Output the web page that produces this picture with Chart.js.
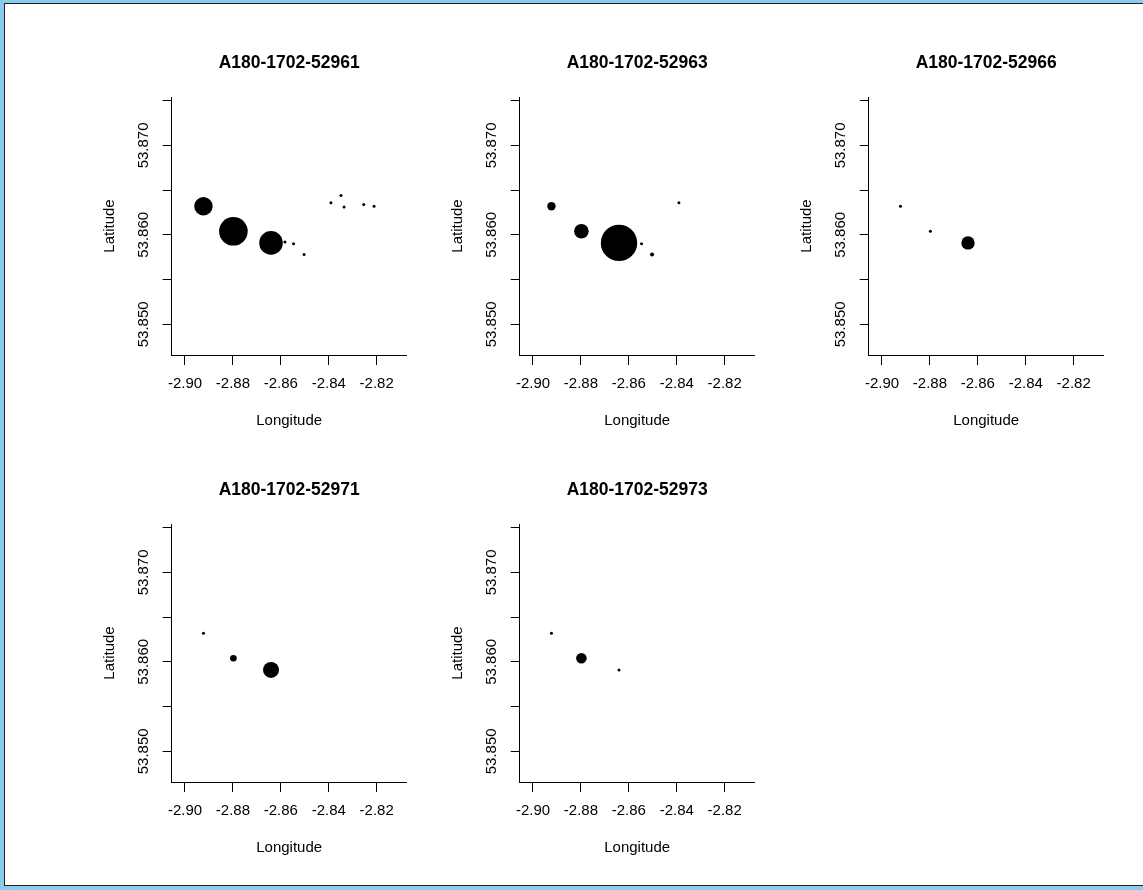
<!DOCTYPE html>
<html>
<head>
<meta charset="utf-8">
<script src="https://cdn.jsdelivr.net/npm/chart.js@4.4.0/dist/chart.umd.min.js"></script>
<style>
    body { margin: 0; background: #fff; width: 1143px; height: 890px; overflow: hidden; }
    #frame { position: absolute; left: 0; top: 0; width: 1143px; height: 890px; background: #8ccbec; }
    #sheet { position: absolute; left: 4px; top: 3px; width: 1139px; height: 883px; background: #fff;
             box-sizing: border-box; border-left: 1px solid #222; border-top: 1px solid #222; border-bottom: 1px solid #222; }
    canvas { position: absolute; }
</style>
</head>
<body>
<div id="frame"><div id="sheet"></div></div>

<script>
const titles = ['A180-1702-52961', 'A180-1702-52963', 'A180-1702-52966', 'A180-1702-52971', 'A180-1702-52973'];

// sampling locations (same for every haul)
const longitude = [-2.8923, -2.8798, -2.8641, -2.8583, -2.8547, -2.8503, -2.8391, -2.8349, -2.8336, -2.8254, -2.8211];
const latitude = [53.8632, 53.8604, 53.8591, 53.8592, 53.8590, 53.8578, 53.8636, 53.8644, 53.8631, 53.8634, 53.8632];

// symbol size (cex) at each location, 0 = nothing caught
const cex52961 = [3.07, 4.77, 3.93, 0.5, 0.5, 0.5, 0.5, 0.5, 0.5, 0.5, 0.5];
const cex52963 = [1.4, 2.43, 6.07, 0, 0.5, 0.67, 0.5, 0, 0, 0, 0];
const cex52966 = [0.5, 0.5, 2.23, 0, 0, 0, 0, 0, 0, 0, 0];
const cex52971 = [0.5, 1.1, 2.67, 0, 0, 0, 0, 0, 0, 0, 0];
const cex52973 = [0.5, 1.77, 0.5, 0, 0, 0, 0, 0, 0, 0, 0];

const lonTicks = [-2.90, -2.88, -2.86, -2.84, -2.82];
const latTicks = [53.850, 53.855, 53.860, 53.865, 53.870, 53.875];
const latLabels = [53.850, 53.860, 53.870];

const allCex = [cex52961, cex52963, cex52966, cex52971, cex52973];

const FONT = 'Arial, "Liberation Sans", sans-serif';

function makePanel(idx) {
    const col = idx % 3;
    const row = Math.floor(idx / 3);
    const canvas = document.createElement('canvas');
    canvas.width = 348;
    canvas.height = 420;
    canvas.style.left = (80 + col * 348.3) + 'px';
    canvas.style.top = (20 + row * 426.6) + 'px';
    document.body.appendChild(canvas);

    const sizes = allCex[idx];
    const points = longitude.map((x, i) => ({ x: x, y: latitude[i] }));

    new Chart(canvas.getContext('2d'), {
        type: 'scatter',
        data: {
            datasets: [
                {
                    data: points,
                    pointRadius: sizes.map((s) => s * 3),
                    pointBackgroundColor: '#000',
                    pointBorderWidth: 0,
                    pointBorderColor: '#000',
                },
            ],
        },
        options: {
            responsive: false,
            animation: false,
            events: [],
            layout: { padding: { left: 0, top: 0, right: 21.3, bottom: 0 } },
            plugins: {
                legend: { display: false },
                tooltip: { enabled: false },
                title: {
                    display: true,
                    text: titles[idx],
                    fullSize: false,
                    color: '#000',
                    font: { family: FONT, size: 17.5, weight: 'bold', lineHeight: 1.2 },
                    padding: { top: 32.7, bottom: 23.3 },
                },
            },
            scales: {
                x: {
                    type: 'linear',
                    position: 'bottom',
                    min: -2.90555,
                    max: -2.80747,
                    afterBuildTicks: (s) => {
                        s.ticks = lonTicks.map((v) => ({ value: v }));
                    },
                    afterFit: (s) => {
                        s.height = 85;
                    },
                    grid: { drawOnChartArea: false, drawTicks: true, tickLength: 10, color: '#000', lineWidth: 1 },
                    border: { display: true, color: '#000', width: 1 },
                    ticks: {
                        autoSkip: false,
                        maxRotation: 0,
                        padding: 9.7,
                        color: '#000',
                        font: { family: FONT, size: 15, lineHeight: 1.2 },
                        callback: (v) => Number(v).toFixed(2),
                    },
                    title: {
                        display: true,
                        text: 'Longitude',
                        color: '#000',
                        font: { family: FONT, size: 15, lineHeight: 1.2 },
                        padding: { top: 0, bottom: 10.5 },
                    },
                },
                y: {
                    type: 'linear',
                    position: 'left',
                    min: 53.84657,
                    max: 53.87541,
                    afterBuildTicks: (s) => {
                        s.ticks = latTicks.map((v) => ({ value: v }));
                    },
                    afterFit: (s) => {
                        s.width = 91.7;
                    },
                    grid: { drawOnChartArea: false, drawTicks: true, tickLength: 9, color: '#000', lineWidth: 1 },
                    border: { display: true, color: '#000', width: 1 },
                    ticks: {
                        autoSkip: false,
                        minRotation: 90,
                        maxRotation: 90,
                        crossAlign: 'center',
                        padding: -4,
                        color: '#000',
                        font: { family: FONT, size: 15, lineHeight: 1.2 },
                        callback: (v) => (latLabels.some((l) => Math.abs(l - v) < 1e-9) ? Number(v).toFixed(3) : ''),
                    },
                    title: {
                        display: true,
                        text: 'Latitude',
                        color: '#000',
                        font: { family: FONT, size: 15, lineHeight: 1.2 },
                        padding: { top: 20.75, bottom: 0 },
                    },
                },
            },
        },
    });
}

titles.forEach((t, i) => makePanel(i));
</script>
</body>
</html>
